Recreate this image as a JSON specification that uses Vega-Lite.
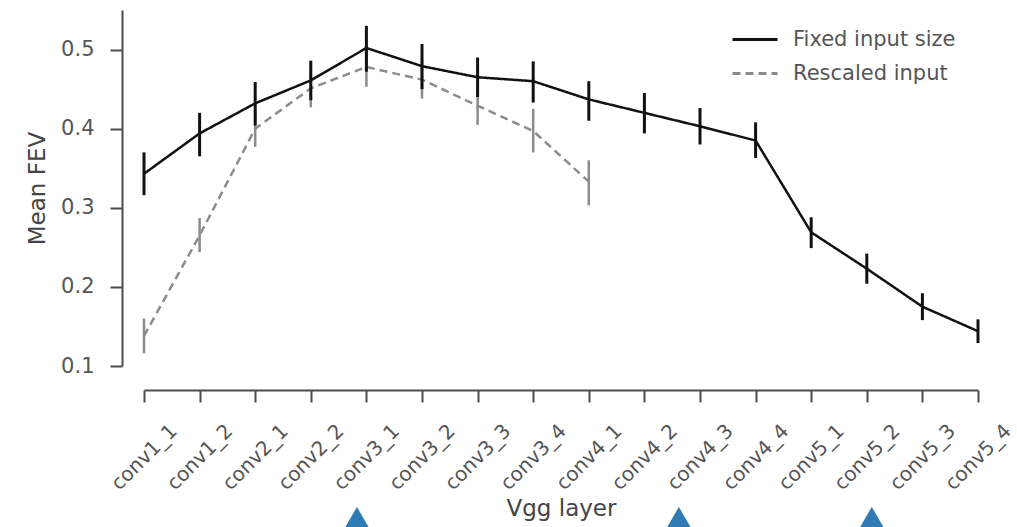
{
  "$schema": "https://vega.github.io/schema/vega-lite/v6.json",
  "width": 834,
  "height": 356,
  "autosize": {"type": "none"},
  "padding": {"left": 144, "top": 10, "right": 39, "bottom": 161},
  "background": "white",
  "config": {
    "view": {"stroke": null},
    "font": "DejaVu Sans",
    "axis": {
      "grid": false,
      "domainColor": "#4d4d4d",
      "domainWidth": 2,
      "tickColor": "#4d4d4d",
      "tickWidth": 2,
      "tickSize": 12,
      "labelColor": "#555555",
      "labelFontSize": 20,
      "titleColor": "#444444",
      "titleFontSize": 23,
      "titleFontWeight": "normal"
    }
  },
  "datasets": {
    "fev": [
      {"layer": "conv1_1", "series": "Rescaled input", "mean": 0.138, "lo": 0.116, "hi": 0.160},
      {"layer": "conv1_2", "series": "Rescaled input", "mean": 0.265, "lo": 0.244, "hi": 0.287},
      {"layer": "conv2_1", "series": "Rescaled input", "mean": 0.400, "lo": 0.377, "hi": 0.423},
      {"layer": "conv2_2", "series": "Rescaled input", "mean": 0.451, "lo": 0.427, "hi": 0.474},
      {"layer": "conv3_1", "series": "Rescaled input", "mean": 0.478, "lo": 0.453, "hi": 0.502},
      {"layer": "conv3_2", "series": "Rescaled input", "mean": 0.462, "lo": 0.438, "hi": 0.487},
      {"layer": "conv3_3", "series": "Rescaled input", "mean": 0.429, "lo": 0.405, "hi": 0.455},
      {"layer": "conv3_4", "series": "Rescaled input", "mean": 0.397, "lo": 0.370, "hi": 0.425},
      {"layer": "conv4_1", "series": "Rescaled input", "mean": 0.333, "lo": 0.303, "hi": 0.360},
      {"layer": "conv1_1", "series": "Fixed input size", "mean": 0.343, "lo": 0.316, "hi": 0.370},
      {"layer": "conv1_2", "series": "Fixed input size", "mean": 0.394, "lo": 0.365, "hi": 0.420},
      {"layer": "conv2_1", "series": "Fixed input size", "mean": 0.432, "lo": 0.404, "hi": 0.459},
      {"layer": "conv2_2", "series": "Fixed input size", "mean": 0.461, "lo": 0.436, "hi": 0.486},
      {"layer": "conv3_1", "series": "Fixed input size", "mean": 0.502, "lo": 0.472, "hi": 0.530},
      {"layer": "conv3_2", "series": "Fixed input size", "mean": 0.479, "lo": 0.450, "hi": 0.507},
      {"layer": "conv3_3", "series": "Fixed input size", "mean": 0.465, "lo": 0.440, "hi": 0.490},
      {"layer": "conv3_4", "series": "Fixed input size", "mean": 0.460, "lo": 0.433, "hi": 0.485},
      {"layer": "conv4_1", "series": "Fixed input size", "mean": 0.437, "lo": 0.410, "hi": 0.460},
      {"layer": "conv4_2", "series": "Fixed input size", "mean": 0.420, "lo": 0.394, "hi": 0.445},
      {"layer": "conv4_3", "series": "Fixed input size", "mean": 0.403, "lo": 0.380, "hi": 0.426},
      {"layer": "conv4_4", "series": "Fixed input size", "mean": 0.385, "lo": 0.363, "hi": 0.408},
      {"layer": "conv5_1", "series": "Fixed input size", "mean": 0.269, "lo": 0.249, "hi": 0.288},
      {"layer": "conv5_2", "series": "Fixed input size", "mean": 0.223, "lo": 0.204, "hi": 0.242},
      {"layer": "conv5_3", "series": "Fixed input size", "mean": 0.175, "lo": 0.158, "hi": 0.192},
      {"layer": "conv5_4", "series": "Fixed input size", "mean": 0.144, "lo": 0.129, "hi": 0.159}
    ],
    "markers": [
      {"pos": 3.83, "level": -0.1},
      {"pos": 9.62, "level": -0.1},
      {"pos": 13.09, "level": -0.1}
    ]
  },
  "layer": [
    {
      "data": {"name": "fev"},
      "encoding": {
        "x": {
          "field": "layer",
          "type": "ordinal",
          "sort": null,
          "scale": {
            "type": "point",
            "padding": 0,
            "domain": ["conv1_1", "conv1_2", "conv2_1", "conv2_2", "conv3_1", "conv3_2", "conv3_3", "conv3_4", "conv4_1", "conv4_2", "conv4_3", "conv4_4", "conv5_1", "conv5_2", "conv5_3", "conv5_4"]
          },
          "axis": {
            "title": "Vgg layer",
            "offset": 24,
            "labelAngle": -45,
            "labelAlign": "center",
            "labelBaseline": "middle",
            "labelPadding": 55,
            "titlePadding": 4
          }
        },
        "color": {
          "field": "series",
          "type": "nominal",
          "scale": {
            "domain": ["Fixed input size", "Rescaled input"],
            "range": ["#111111", "#8c8c8c"]
          },
          "legend": {
            "title": null,
            "orient": "none",
            "legendX": 587,
            "legendY": 5.5,
            "padding": 0,
            "symbolType": "stroke",
            "symbolSize": 2025,
            "symbolStrokeWidth": 3,
            "labelFontSize": 21,
            "labelColor": "#555555",
            "labelOffset": 14,
            "labelLimit": 400,
            "rowPadding": -15
          }
        },
        "strokeDash": {
          "field": "series",
          "type": "nominal",
          "scale": {
            "domain": ["Fixed input size", "Rescaled input"],
            "range": [[1, 0], [8, 5]]
          },
          "legend": {
            "title": null,
            "orient": "none",
            "legendX": 587,
            "legendY": 5.5,
            "padding": 0,
            "symbolType": "stroke",
            "symbolSize": 2025,
            "symbolStrokeWidth": 3,
            "labelFontSize": 21,
            "labelColor": "#555555",
            "labelOffset": 14,
            "labelLimit": 400,
            "rowPadding": -15
          }
        }
      },
      "layer": [
        {
          "transform": [{"filter": "datum.series === 'Rescaled input'"}],
          "mark": {"type": "rule", "strokeWidth": 2.5},
          "encoding": {
            "y": {"field": "lo", "type": "quantitative"},
            "y2": {"field": "hi"},
            "strokeDash": null
          }
        },
        {
          "transform": [{"filter": "datum.series === 'Rescaled input'"}],
          "mark": {"type": "line", "strokeWidth": 2.5},
          "encoding": {
            "y": {"field": "mean", "type": "quantitative"}
          }
        },
        {
          "transform": [{"filter": "datum.series === 'Fixed input size'"}],
          "mark": {"type": "rule", "strokeWidth": 3},
          "encoding": {
            "y": {"field": "lo", "type": "quantitative"},
            "y2": {"field": "hi"},
            "strokeDash": null
          }
        },
        {
          "transform": [{"filter": "datum.series === 'Fixed input size'"}],
          "mark": {"type": "line", "strokeWidth": 2.5},
          "encoding": {
            "y": {
              "field": "mean",
              "type": "quantitative",
              "scale": {"domain": [0.1, 0.55], "nice": false, "zero": false},
              "axis": {
                "title": "Mean FEV",
                "offset": 22,
                "values": [0.1, 0.2, 0.3, 0.4, 0.5],
                "format": ".1f",
                "labelFontSize": 21,
                "labelPadding": 16,
                "titlePadding": 11
              }
            }
          }
        }
      ]
    },
    {
      "data": {"name": "markers"},
      "mark": {"type": "point", "shape": "triangle-up", "filled": true, "size": 1600, "opacity": 1, "clip": false, "color": "#2e7cb3"},
      "encoding": {
        "x": {"field": "pos", "type": "quantitative", "scale": {"domain": [0, 15], "nice": false, "zero": false}, "axis": null},
        "y": {"field": "level", "type": "quantitative", "scale": {"domain": [0.1, 0.55], "nice": false, "zero": false}, "axis": null}
      }
    }
  ],
  "resolve": {
    "scale": {"x": "independent", "y": "independent"},
    "axis": {"x": "independent", "y": "independent"}
  }
}
